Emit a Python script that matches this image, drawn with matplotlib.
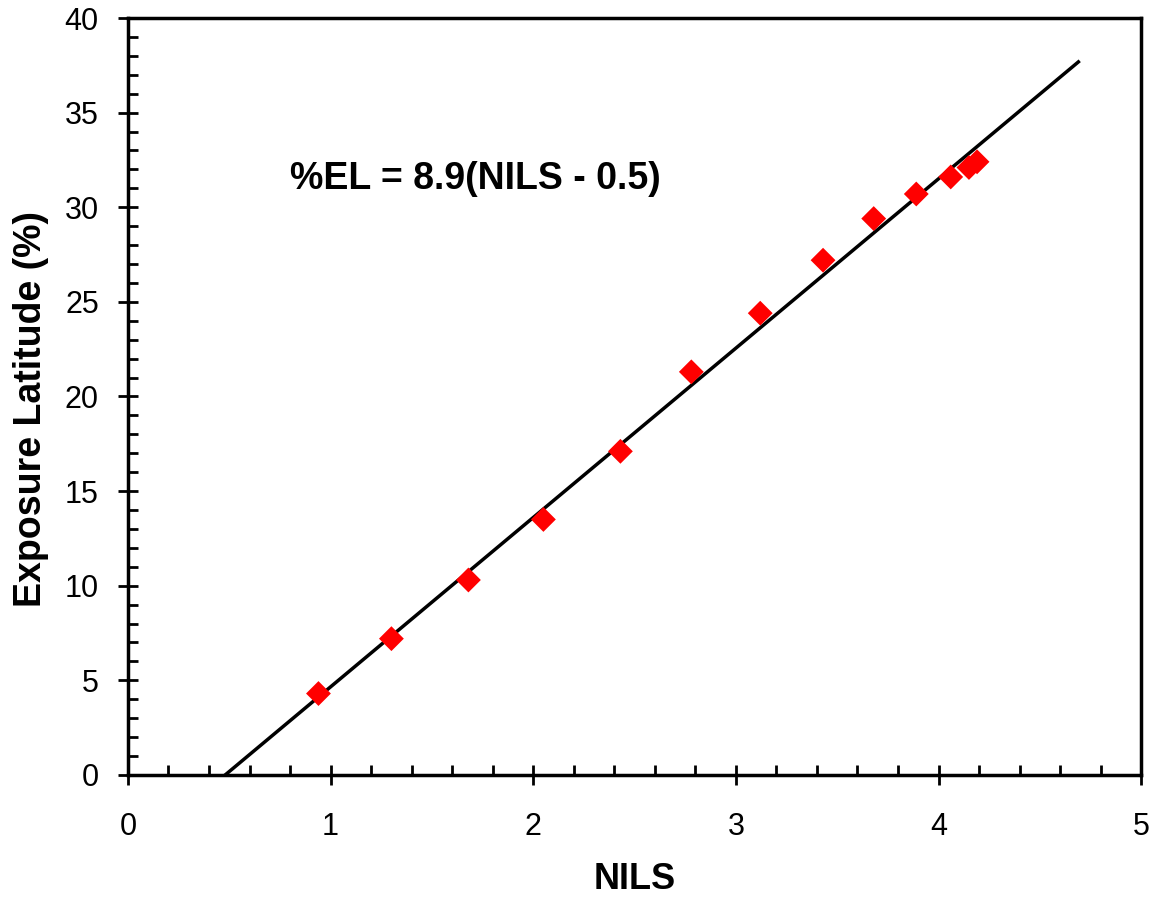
import numpy as np
import matplotlib
matplotlib.use("Agg")
import matplotlib.pyplot as plt
from matplotlib.ticker import MultipleLocator

plt.rcParams['font.family'] = ['Liberation Sans', 'DejaVu Sans']

# measured points
nils = [0.94, 1.30, 1.68, 2.05, 2.43, 2.78, 3.12, 3.43, 3.68, 3.89, 4.06, 4.15, 4.19]
el = [4.3, 7.2, 10.3, 13.5, 17.1, 21.3, 24.4, 27.2, 29.4, 30.7, 31.6, 32.1, 32.4]

# drawn fit line (label rounds it to 8.9(NILS - 0.5))
slope = 8.95
offset = 0.48
fit_x = np.array([offset, 4.69])
fit_y = slope * (fit_x - offset)

fig = plt.figure(figsize=(11.56, 9), dpi=100)
ax = fig.add_axes([0.1107, 0.139, 0.8765, 0.841])

ax.plot(fit_x, fit_y, color='black', lw=2.5, zorder=2)
ax.scatter(nils, el, marker='D', s=160, color='red', edgecolors='none', zorder=3)

ax.set_xlim(0, 5)
ax.set_ylim(0, 40)
ax.xaxis.set_major_locator(MultipleLocator(1))
ax.xaxis.set_minor_locator(MultipleLocator(0.2))
ax.yaxis.set_major_locator(MultipleLocator(5))
ax.yaxis.set_minor_locator(MultipleLocator(1))
ax.tick_params(which='major', direction='inout', length=14, width=2, labelsize=22)
ax.tick_params(axis='x', which='major', pad=20)
ax.tick_params(axis='y', which='major', pad=14)
ax.tick_params(which='minor', direction='in', length=7, width=2)
for s in ax.spines.values():
    s.set_linewidth(2.5)

ax.set_xlabel('NILS', fontsize=26, fontweight='bold', labelpad=14)
ax.set_ylabel('Exposure Latitude (%)', fontsize=27, fontweight='bold')
ax.yaxis.set_label_coords(-0.078, 0.483)

ax.text(0.8, 31.5, '%EL = 8.9(NILS - 0.5)', fontsize=27, fontweight='bold', va='center')

fig.savefig('out.png', dpi=100)
